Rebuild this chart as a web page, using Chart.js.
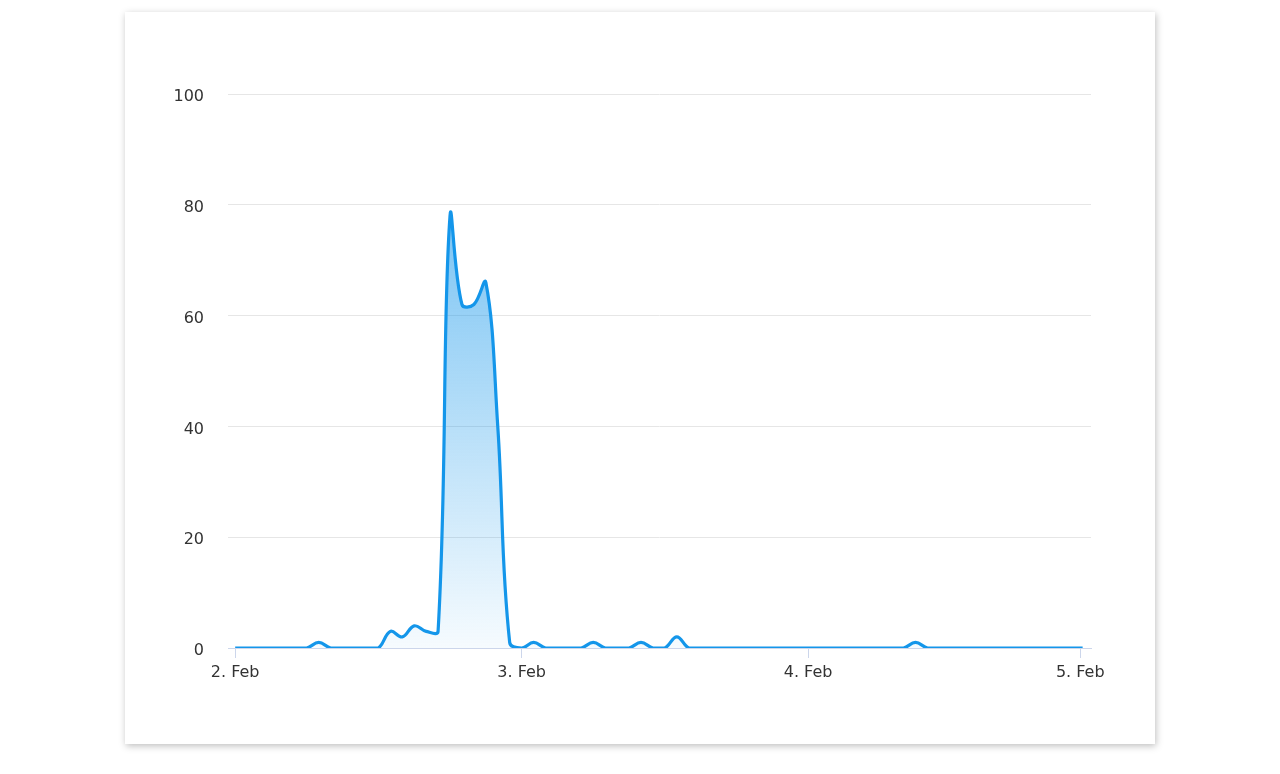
<!DOCTYPE html>
<html>
<head>
<meta charset="utf-8">
<title>Hourly chart</title>
<script src="https://cdn.jsdelivr.net/npm/chart.js@4/dist/chart.umd.min.js"></script>
<style>
    html, body { margin: 0; padding: 0; background: #ffffff; }
    .card {
        position: absolute;
        left: 125px;
        top: 12px;
        width: 1030px;
        height: 732px;
        background: #ffffff;
        box-shadow: 1px 2px 7px rgba(0, 0, 0, 0.26);
    }
    canvas { display: block; }
</style>
</head>
<body>
<div class="card">
    <canvas id="chart" width="1030" height="732"></canvas>
</div>
<script>
// hours since 2 Feb 00:00
const hours = [
    0, 1, 2, 3, 4, 5, 6, 7, 8, 9, 10, 11,
    12, 13, 14, 15, 16, 17, 18, 19, 20, 21, 22, 23,
    24, 25, 26, 27, 28, 29, 30, 31, 32, 33, 34, 35,
    36, 37, 38, 39, 40, 41, 42, 43, 44, 45, 46, 47,
    48, 49, 50, 51, 52, 53, 54, 55, 56, 57, 58, 59,
    60, 61, 62, 63, 64, 65, 66, 67, 68, 69, 70, 71
];
const values = [
    0, 0, 0, 0, 0, 0, 0, 1, 0, 0, 0, 0,
    0, 3, 2, 4, 3, 3, 78, 62, 62, 66, 40, 1,
    0, 1, 0, 0, 0, 0, 1, 0, 0, 0, 1, 0,
    0, 2, 0, 0, 0, 0, 0, 0, 0, 0, 0, 0,
    0, 0, 0, 0, 0, 0, 0, 0, 0, 1, 0, 0,
    0, 0, 0, 0, 0, 0, 0, 0, 0, 0, 0, 0
];
const tickHours = [0, 24, 48, 70.8];
const tickLabels = ['2. Feb', '3. Feb', '4. Feb', '5. Feb'];
const yTicks = [0, 20, 40, 60, 80, 100];

const lineColor = '#1496ea';

document.addEventListener("DOMContentLoaded", function () {
    const ctx = document.getElementById('chart').getContext('2d');
    new Chart(ctx, {
        type: 'line',
        data: {
            datasets: [{
                data: hours.map((h, i) => ({ x: h, y: values[i] })),
                borderColor: lineColor,
                borderWidth: 3.2,
                pointRadius: 0,
                tension: 0.4,
                fill: 'origin',
                backgroundColor: function (context) {
                    const area = context.chart.chartArea;
                    if (!area) return 'rgba(20,150,234,0.3)';
                    const g = context.chart.ctx.createLinearGradient(0, area.top, 0, area.bottom);
                    g.addColorStop(0, 'rgba(20,150,234,0.7)');
                    g.addColorStop(1, 'rgba(20,150,234,0.04)');
                    return g;
                }
            }]
        },
        options: {
            responsive: false,
            animation: false,
            layout: { padding: { top: 82, right: 64, left: 0, bottom: 0 } },
            plugins: {
                legend: { display: false },
                tooltip: { enabled: false }
            },
            scales: {
                x: {
                    type: 'linear',
                    min: -0.6,
                    max: 71.7,
                    afterBuildTicks: function (scale) {
                        scale.ticks = tickHours.map(v => ({ value: v }));
                    },
                    afterFit: function (scale) { scale.height = 96; },
                    grid: {
                        drawOnChartArea: false,
                        drawTicks: true,
                        tickLength: 10,
                        color: '#ccd6eb'
                    },
                    border: { display: true, color: '#ccd6eb', width: 1 },
                    ticks: {
                        autoSkip: false,
                        maxRotation: 0,
                        padding: 5,
                        color: '#333333',
                        font: { family: 'DejaVu Sans', size: 16 },
                        callback: function (value) {
                            const i = tickHours.indexOf(value);
                            return i >= 0 ? tickLabels[i] : '';
                        }
                    }
                },
                y: {
                    min: 0,
                    max: 100,
                    afterBuildTicks: function (scale) {
                        scale.ticks = yTicks.map(v => ({ value: v }));
                    },
                    afterFit: function (scale) { scale.width = 103; },
                    grid: {
                        color: '#e6e6e6',
                        lineWidth: 1,
                        drawTicks: false
                    },
                    border: { display: false },
                    ticks: {
                        padding: 24,
                        labelOffset: 3,
                        color: '#333333',
                        font: { family: 'DejaVu Sans', size: 16 }
                    }
                }
            }
        }
    });
});
</script>
</body>
</html>
